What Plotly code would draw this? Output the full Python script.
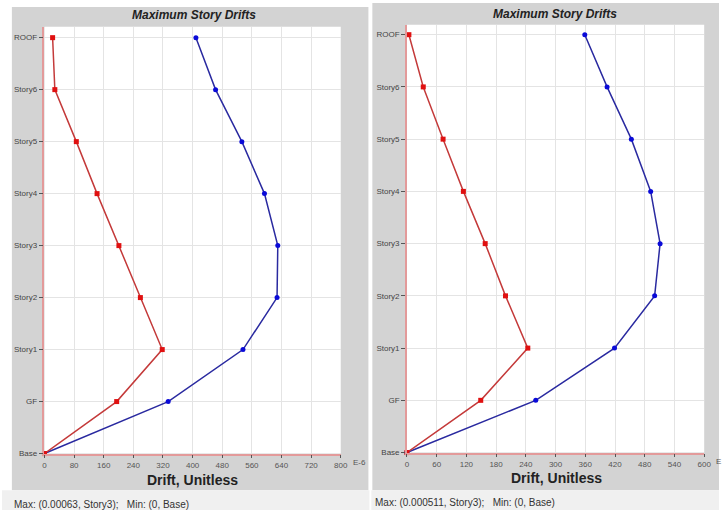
import plotly.graph_objects as go

W, H = 726, 515

stories = ["Base", "GF", "Story1", "Story2", "Story3", "Story4", "Story5", "Story6", "ROOF"]

# Left chart (values in E-6)
left_red = [0, 195, 318, 259, 201, 142, 86, 28, 22]
left_blue = [0, 334, 536, 628, 630, 594, 533, 462, 409]
left_ticks = [0, 80, 160, 240, 320, 400, 480, 560, 640, 720, 800]

# Right chart (values in E-6)
right_red = [0, 149, 244, 199, 158, 114, 73, 33, 4]
right_blue = [0, 260, 419, 500, 511, 492, 453, 404, 359]
right_ticks = [0, 60, 120, 180, 240, 300, 360, 420, 480, 540, 600]

title_text = "Maximum Story Drifts"
xtitle_text = "Drift, Unitless"
left_unit = "E-6"
right_unit = "E"          # cut off at the right edge in the reference
left_status = "Max: (0.00063, Story3);   Min: (0, Base)"
right_status = "Max: (0.000511, Story3);   Min: (0, Base)"

FONT = "Liberation Sans, Arial, sans-serif"
RED_LINE = "#c43a3a"
RED_MK = "#e01010"
BLUE_LINE = "#2a2aa0"
BLUE_MK = "#0a0ad8"
PANEL = "#d3d3d3"
STATUS = "#f0f0f0"
AXLINE = "#e39a9a"
GRID = "#e4e4e4"

L_X0, L_X1, L_Y0, L_Y1 = 43, 343, 27, 458
R_X0, R_X1, R_Y0, R_Y1 = 410, 711, 25, 457


def px_x(x):
    return x / W


def px_y(y):
    return 1 - y / H


fig = go.Figure()

fig.add_trace(go.Scatter(x=left_blue, y=stories, mode="lines+markers", xaxis="x", yaxis="y",
                         line=dict(color=BLUE_LINE, width=1.5),
                         marker=dict(color=BLUE_MK, size=5, symbol="circle"), cliponaxis=False))
fig.add_trace(go.Scatter(x=left_red, y=stories, mode="lines+markers", xaxis="x", yaxis="y",
                         line=dict(color=RED_LINE, width=1.5),
                         marker=dict(color=RED_MK, size=5, symbol="square"), cliponaxis=False))
fig.add_trace(go.Scatter(x=right_blue, y=stories, mode="lines+markers", xaxis="x2", yaxis="y2",
                         line=dict(color=BLUE_LINE, width=1.5),
                         marker=dict(color=BLUE_MK, size=5, symbol="circle"), cliponaxis=False))
fig.add_trace(go.Scatter(x=right_red, y=stories, mode="lines+markers", xaxis="x2", yaxis="y2",
                         line=dict(color=RED_LINE, width=1.5),
                         marker=dict(color=RED_MK, size=5, symbol="square"), cliponaxis=False))

xcommon = dict(showgrid=True, gridcolor=GRID, gridwidth=1, showline=True, linecolor=AXLINE,
               linewidth=1.5, ticks="outside", ticklen=3, tickcolor="#555555", zeroline=False,
               tickfont=dict(family=FONT, size=8, color="#555555"), fixedrange=True)
ycommon = dict(type="category", categoryorder="array", categoryarray=stories, showgrid=True,
               gridcolor=GRID, gridwidth=1, showline=True, linecolor=AXLINE, linewidth=1.5,
               ticks="outside", ticklen=4, tickcolor="#555555", zeroline=False,
               tickfont=dict(family=FONT, size=8, color="#444444"), fixedrange=True)

fig.update_layout(
    width=W, height=H,
    margin=dict(l=0, r=0, t=0, b=0),
    paper_bgcolor="white", plot_bgcolor="white",
    showlegend=False,
    xaxis=dict(domain=[px_x(L_X0), px_x(L_X1)], range=[0, 800], tickvals=left_ticks,
               anchor="y", **xcommon),
    yaxis=dict(domain=[px_y(L_Y1), px_y(L_Y0)], range=[0, 8.21], anchor="x", **ycommon),
    xaxis2=dict(domain=[px_x(R_X0), px_x(R_X1)], range=[0, 600], tickvals=right_ticks,
                anchor="y2", **xcommon),
    yaxis2=dict(domain=[px_y(R_Y1), px_y(R_Y0)], range=[0, 8.19], anchor="x2", **ycommon),
)


def rect(x0, x1, y0, y1, color):
    return dict(type="rect", xref="paper", yref="paper", x0=px_x(x0), x1=px_x(x1),
                y0=px_y(y1), y1=px_y(y0), fillcolor=color, line=dict(width=0), layer="below")


shapes = [
    rect(10, 371, 7, 495, PANEL),
    rect(375, 726, 3, 495, PANEL),
    rect(0, 372, 495, 515, STATUS),
    rect(374, 726, 495, 515, STATUS),
    rect(L_X0, L_X1, L_Y0, L_Y1, "white"),
    rect(R_X0, R_X1, R_Y0, R_Y1, "white"),
]
fig.update_layout(shapes=shapes)

ann = []
for cx, cy in [(194, 15), (560, 14)]:
    ann.append(dict(text=f"<b><i>{title_text}</i></b>", x=px_x(cx), y=px_y(cy), xref="paper", yref="paper",
                    showarrow=False, xanchor="center", yanchor="middle",
                    font=dict(family=FONT, size=12, color="#222222")))
for cx, cy in [(193, 485), (561, 483)]:
    ann.append(dict(text=f"<b>{xtitle_text}</b>", x=px_x(cx), y=px_y(cy), xref="paper", yref="paper",
                    showarrow=False, xanchor="center", yanchor="middle",
                    font=dict(family=FONT, size=14, color="#222222")))
for txt, cx, cy in [(left_unit, 353, 467), (right_unit, 721, 466)]:
    ann.append(dict(text=txt, x=px_x(cx), y=px_y(cy), xref="paper", yref="paper",
                    showarrow=False, xanchor="left", yanchor="middle",
                    font=dict(family=FONT, size=8, color="#555555")))
for txt, cx, cy in [(left_status, 10, 509), (right_status, 376, 507)]:
    ann.append(dict(text=txt, x=px_x(cx), y=px_y(cy), xref="paper", yref="paper",
                    showarrow=False, xanchor="left", yanchor="middle",
                    font=dict(family=FONT, size=10, color="#333333")))
fig.update_layout(annotations=ann)

post = (
    "var de=document.documentElement,b=document.body;"
    "de.style.margin='0';de.style.padding='0';de.style.overflow='hidden';"
    "b.style.margin='0';b.style.padding='0';b.style.overflow='hidden';"
)

fig.write_html("out.html", config={"displayModeBar": False}, post_script=post)
